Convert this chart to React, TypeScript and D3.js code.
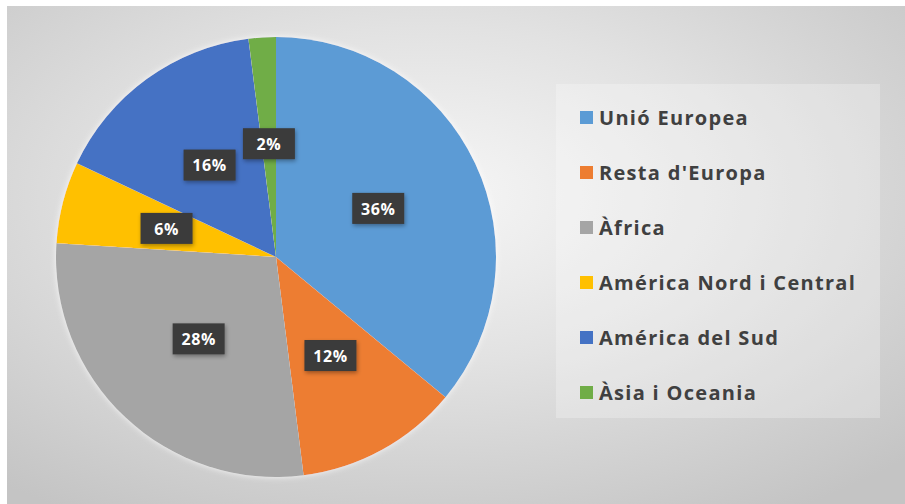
import * as d3 from "d3";

const categories = ["Unió Europea", "Resta d'Europa", "Àfrica", "América Nord i Central", "América del Sud", "Àsia i Oceania"];
const values = [36, 12, 28, 6, 16, 2];
const colors = ["#5b9bd5", "#ed7d31", "#a5a5a5", "#ffc000", "#4472c4", "#70ad47"];

const width = 905;
const height = 504;
const cx = 276;
const cy = 257;
const radius = 220;

const App = () => {
    const pie = d3.pie<number>().sort(null).value(d => d);
    const arcs = pie(values);
    const arc = d3.arc<d3.PieArcDatum<number>>().innerRadius(0).outerRadius(radius);
    const labelArc = d3.arc<d3.PieArcDatum<number>>().innerRadius(113).outerRadius(113);

    // legend rows
    const legendY = d3.scalePoint<number>().domain(d3.range(categories.length)).range([118, 393]);

    return (
        <svg width={width} height={height} style={{position: "absolute", left: 0, top: 0}}>
            <defs>
                <radialGradient id="bg" cx="47%" cy="38%" r="75%">
                    <stop offset="0%" stopColor="#f6f6f6" />
                    <stop offset="45%" stopColor="#e2e2e2" />
                    <stop offset="100%" stopColor="#c4c4c4" />
                </radialGradient>
                <filter id="shadow" x="-20%" y="-20%" width="140%" height="140%">
                    <feDropShadow dx="1" dy="2" stdDeviation="2" floodColor="#000" floodOpacity="0.35" />
                </filter>
                <filter id="pieShadow" x="-10%" y="-10%" width="120%" height="120%">
                    <feDropShadow dx="0" dy="0" stdDeviation="3" floodColor="#fff" floodOpacity="0.8" />
                </filter>
            </defs>
            <rect width={width} height={height} fill="#fff" />
            <rect x={7} y={6} width={width - 7} height={height - 6} fill="url(#bg)" />

            <g transform={`translate(${cx},${cy})`} filter="url(#pieShadow)">
                {arcs.map((a, i) => (
                    <path key={i} d={arc(a) || ""} fill={colors[i]} />
                ))}
            </g>

            <g transform={`translate(${cx},${cy})`}>
                {arcs.map((a, i) => {
                    const [x, y] = labelArc.centroid(a);
                    return (
                        <g key={i} transform={`translate(${x},${y})`}>
                            <rect x={-26} y={-16} width={52} height={31} fill="#3a3a3a" filter="url(#shadow)" />
                            <text textAnchor="middle" dy="0.36em" fill="#fff" fontFamily="'Open Sans', sans-serif" fontWeight="bold" fontSize={16} letterSpacing={0.6}>
                                {values[i]}%
                            </text>
                        </g>
                    );
                })}
            </g>

            <rect x={556} y={84} width={324} height={334} fill="#ffffff" opacity={0.25} />
            {categories.map((c, i) => (
                <g key={i} transform={`translate(580,${legendY(i)})`}>
                    <rect x={0} y={-7} width={13} height={13} fill={colors[i]} />
                    <text x={19} dy="0.36em" fill="#404040" fontFamily="'Open Sans', sans-serif" fontWeight="bold" fontSize={20} letterSpacing={1.3}>
                        {c}
                    </text>
                </g>
            ))}
        </svg>
    );
};

export default App;
